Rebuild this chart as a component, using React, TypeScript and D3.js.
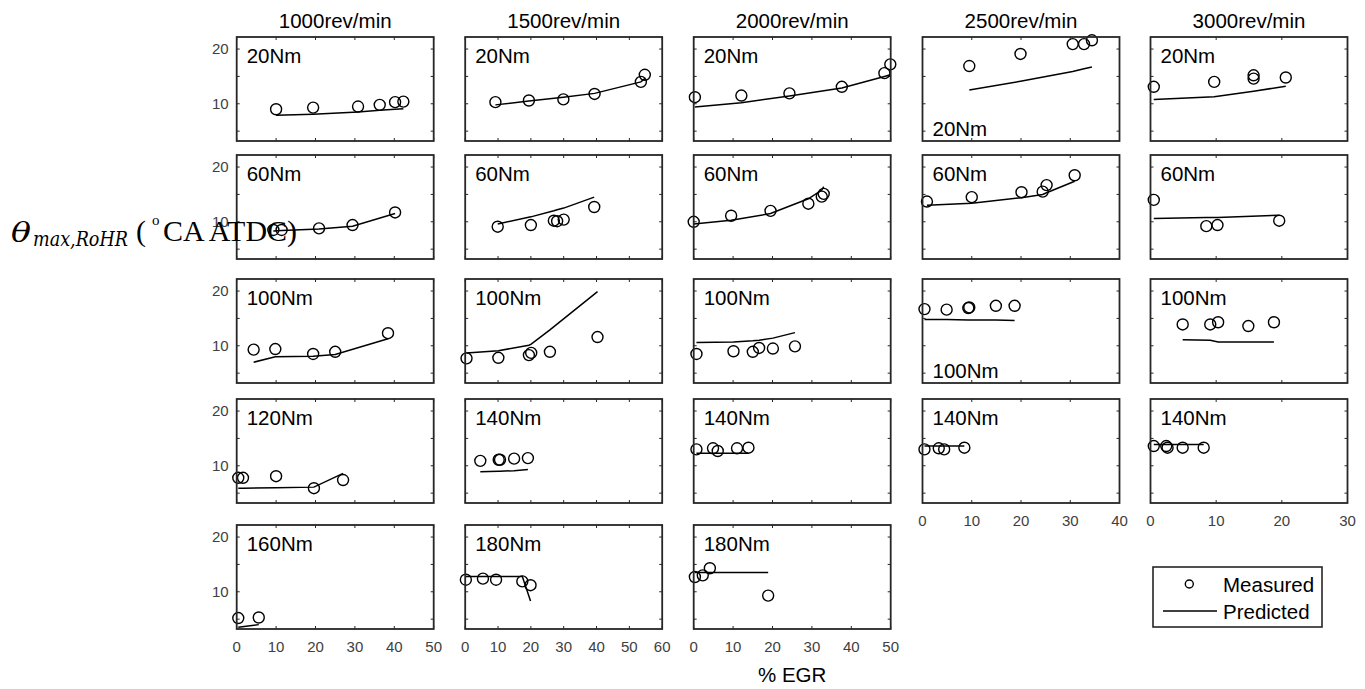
import React from 'react';
import * as d3 from 'd3';

// ---------- labels / axes ----------
const speedTitles = ['1000rev/min', '1500rev/min', '2000rev/min', '2500rev/min', '3000rev/min'];
const xMaxByCol = [50, 60, 50, 40, 30];
const yTickValues = [5, 10, 15, 20];
const yTickLabels = [10, 20];
const yDomain: [number, number] = [3.2, 22.2];
const legendLabels = ['Measured', 'Predicted'];
const xAxisTitle = '% EGR';

// ---------- data (EGR %, measured, predicted) ----------
// 1000 rev/min
const egr_1000_20 = [10.0, 19.4, 30.8, 36.3, 40.2, 42.3];
const meas_1000_20 = [9.0, 9.3, 9.5, 9.8, 10.3, 10.4];
const pred_1000_20 = [7.9, 8.1, 8.5, 8.8, 9.0, 9.1];

const egr_1000_60 = [9.3, 11.4, 20.9, 29.4, 40.2];
const meas_1000_60 = [8.5, 8.5, 8.8, 9.4, 11.7];
const pred_1000_60 = [8.3, 8.4, 8.7, 9.2, 11.5];

const egr_1000_100 = [4.3, 9.8, 19.4, 25.0, 38.4];
const meas_1000_100 = [9.3, 9.4, 8.5, 8.9, 12.3];
const pred_1000_100 = [7.0, 8.0, 8.1, 8.4, 11.3];

const egr_1000_120 = [0.4, 1.6, 10.0, 19.6, 27.0];
const meas_1000_120 = [7.8, 7.8, 8.1, 5.9, 7.4];
const pred_1000_120 = [5.9, 5.9, 6.0, 6.1, 8.6];

const egr_1000_160 = [0.4, 5.6];
const meas_1000_160 = [5.2, 5.3];
const pred_1000_160 = [3.5, 4.0];

// 1500 rev/min
const egr_1500_20 = [9.2, 19.4, 29.9, 39.4, 53.5, 54.7];
const meas_1500_20 = [10.3, 10.6, 10.8, 11.8, 14.0, 15.3];
const pred_1500_20 = [9.8, 10.5, 11.2, 11.9, 14.0, 14.6];

const egr_1500_60 = [9.9, 20.0, 27.0, 28.0, 30.0, 39.3];
const meas_1500_60 = [9.1, 9.4, 10.2, 10.1, 10.4, 12.7];
const pred_1500_60 = [9.6, 10.9, 12.0, 12.2, 12.5, 14.5];

const egr_1500_100 = [0.4, 10.1, 19.4, 20.1, 25.8, 40.3];
const meas_1500_100 = [7.7, 7.8, 8.3, 8.7, 8.9, 11.6];
const pred_1500_100 = [8.7, 9.1, 10.1, 10.3, 12.9, 19.9];

const egr_1500_140 = [4.6, 10.2, 10.6, 14.9, 19.1];
const meas_1500_140 = [10.9, 11.1, 11.1, 11.3, 11.4];
const pred_1500_140 = [8.9, 9.0, 9.0, 9.1, 9.3];

const egr_1500_180 = [0.2, 5.4, 9.4, 17.4, 19.9];
const meas_1500_180 = [12.2, 12.4, 12.2, 11.9, 11.2];
const pred_1500_180 = [12.8, 12.8, 12.8, 12.8, 8.3];

// 2000 rev/min
const egr_2000_20 = [0.3, 12.1, 24.3, 37.6, 48.4, 49.9];
const meas_2000_20 = [11.2, 11.5, 11.9, 13.1, 15.6, 17.2];
const pred_2000_20 = [9.4, 10.2, 11.4, 12.9, 15.0, 15.3];

const egr_2000_60 = [0.0, 9.5, 19.5, 29.1, 32.5, 33.0];
const meas_2000_60 = [10.0, 11.1, 12.0, 13.3, 14.6, 15.1];
const pred_2000_60 = [9.6, 10.3, 11.5, 14.2, 15.8, 16.4];

const egr_2000_100 = [0.7, 10.1, 15.0, 16.6, 20.1, 25.7];
const meas_2000_100 = [8.5, 9.0, 8.9, 9.6, 9.5, 9.9];
const pred_2000_100 = [10.6, 10.7, 10.9, 11.0, 11.4, 12.4];

const egr_2000_140 = [0.7, 4.9, 6.1, 11.0, 13.9];
const meas_2000_140 = [13.0, 13.2, 12.7, 13.2, 13.3];
const pred_2000_140 = [12.3, 12.3, 12.3, 12.3, 12.3];

const egr_2000_180 = [0.3, 2.3, 4.1, 18.9];
const meas_2000_180 = [12.7, 13.0, 14.3, 9.3];
const pred_2000_180 = [13.5, 13.5, 13.5, 13.5];

// 2500 rev/min
const egr_2500_20 = [9.5, 19.9, 30.5, 32.8, 34.4];
const meas_2500_20 = [16.9, 19.1, 20.9, 20.9, 21.6];
const pred_2500_20 = [12.5, 14.1, 15.9, 16.4, 16.7];

const egr_2500_60 = [0.9, 10.0, 20.1, 24.4, 25.2, 30.9];
const meas_2500_60 = [13.7, 14.5, 15.4, 15.5, 16.7, 18.5];
const pred_2500_60 = [13.0, 13.4, 14.4, 15.0, 15.3, 17.4];

const egr_2500_100 = [0.4, 4.9, 9.3, 9.5, 14.9, 18.7];
const meas_2500_100 = [16.7, 16.6, 16.9, 17.0, 17.3, 17.3];
const pred_2500_100 = [14.8, 14.8, 14.7, 14.7, 14.7, 14.6];

const egr_2500_140 = [0.4, 3.3, 4.4, 8.5];
const meas_2500_140 = [13.0, 13.2, 13.0, 13.3];
const pred_2500_140 = [13.6, 13.6, 13.6, 13.6];

// 3000 rev/min
const egr_3000_20 = [0.5, 9.7, 15.7, 15.7, 20.6];
const meas_3000_20 = [13.1, 14.0, 15.2, 14.6, 14.8];
const pred_3000_20 = [10.8, 11.3, 12.3, 12.3, 13.2];

const egr_3000_60 = [0.5, 8.5, 10.2, 19.6];
const meas_3000_60 = [14.0, 9.2, 9.4, 10.2];
const pred_3000_60 = [10.6, 10.8, 10.8, 11.2];

const egr_3000_100 = [4.9, 9.1, 10.3, 14.9, 18.8];
const meas_3000_100 = [13.9, 13.9, 14.3, 13.6, 14.3];
const pred_3000_100 = [11.1, 11.0, 10.7, 10.7, 10.7];

const egr_3000_140 = [0.5, 2.4, 2.6, 4.9, 8.1];
const meas_3000_140 = [13.6, 13.6, 13.3, 13.3, 13.3];
const pred_3000_140 = [13.9, 13.9, 13.9, 13.9, 13.9];

type Panel = {
  col: number; row: number; label: string; bottomLabel?: boolean;
  egr: number[]; meas: number[]; pred: number[];
};

const panels: Panel[] = [
  { col: 0, row: 0, label: '20Nm', egr: egr_1000_20, meas: meas_1000_20, pred: pred_1000_20 },
  { col: 0, row: 1, label: '60Nm', egr: egr_1000_60, meas: meas_1000_60, pred: pred_1000_60 },
  { col: 0, row: 2, label: '100Nm', egr: egr_1000_100, meas: meas_1000_100, pred: pred_1000_100 },
  { col: 0, row: 3, label: '120Nm', egr: egr_1000_120, meas: meas_1000_120, pred: pred_1000_120 },
  { col: 0, row: 4, label: '160Nm', egr: egr_1000_160, meas: meas_1000_160, pred: pred_1000_160 },
  { col: 1, row: 0, label: '20Nm', egr: egr_1500_20, meas: meas_1500_20, pred: pred_1500_20 },
  { col: 1, row: 1, label: '60Nm', egr: egr_1500_60, meas: meas_1500_60, pred: pred_1500_60 },
  { col: 1, row: 2, label: '100Nm', egr: egr_1500_100, meas: meas_1500_100, pred: pred_1500_100 },
  { col: 1, row: 3, label: '140Nm', egr: egr_1500_140, meas: meas_1500_140, pred: pred_1500_140 },
  { col: 1, row: 4, label: '180Nm', egr: egr_1500_180, meas: meas_1500_180, pred: pred_1500_180 },
  { col: 2, row: 0, label: '20Nm', egr: egr_2000_20, meas: meas_2000_20, pred: pred_2000_20 },
  { col: 2, row: 1, label: '60Nm', egr: egr_2000_60, meas: meas_2000_60, pred: pred_2000_60 },
  { col: 2, row: 2, label: '100Nm', egr: egr_2000_100, meas: meas_2000_100, pred: pred_2000_100 },
  { col: 2, row: 3, label: '140Nm', egr: egr_2000_140, meas: meas_2000_140, pred: pred_2000_140 },
  { col: 2, row: 4, label: '180Nm', egr: egr_2000_180, meas: meas_2000_180, pred: pred_2000_180 },
  { col: 3, row: 0, label: '20Nm', bottomLabel: true, egr: egr_2500_20, meas: meas_2500_20, pred: pred_2500_20 },
  { col: 3, row: 1, label: '60Nm', egr: egr_2500_60, meas: meas_2500_60, pred: pred_2500_60 },
  { col: 3, row: 2, label: '100Nm', bottomLabel: true, egr: egr_2500_100, meas: meas_2500_100, pred: pred_2500_100 },
  { col: 3, row: 3, label: '140Nm', egr: egr_2500_140, meas: meas_2500_140, pred: pred_2500_140 },
  { col: 4, row: 0, label: '20Nm', egr: egr_3000_20, meas: meas_3000_20, pred: pred_3000_20 },
  { col: 4, row: 1, label: '60Nm', egr: egr_3000_60, meas: meas_3000_60, pred: pred_3000_60 },
  { col: 4, row: 2, label: '100Nm', egr: egr_3000_100, meas: meas_3000_100, pred: pred_3000_100 },
  { col: 4, row: 3, label: '140Nm', egr: egr_3000_140, meas: meas_3000_140, pred: pred_3000_140 },
];

// ---------- layout ----------
const colLeft = [236.7, 465.2, 693.7, 922.5, 1150.5];
const rowTop = [37, 155, 279, 399, 525];
const PW = 197;
const PH = 104;
const lastRowByCol = [4, 4, 4, 3, 3];
const SANS = '"Liberation Sans", Arial, Helvetica, sans-serif';
const SERIF = '"Liberation Serif", "Times New Roman", serif';
const MATHSERIF = '"DejaVu Serif", "Liberation Serif", serif';
const AXIS = '#262626';
const TICK = 3;

function PanelView({ p }: { p: Panel }) {
  const x0 = colLeft[p.col];
  const y0 = rowTop[p.row];
  const xMax = xMaxByCol[p.col];
  const xs = d3.scaleLinear().domain([0, xMax]).range([x0, x0 + PW]);
  const ys = d3.scaleLinear().domain(yDomain).range([y0 + PH, y0]);
  const xTicks = d3.range(0, xMax + 0.001, 10);
  const line = d3.line<number>().x((_, i) => xs(p.egr[i])).y((d) => ys(d));
  const isLast = lastRowByCol[p.col] === p.row;
  return (
    <g>
      <rect x={x0} y={y0} width={PW} height={PH} fill="#fff" stroke="none" />
      {xTicks.map((t) => (
        <g key={'xt' + t}>
          <line x1={xs(t)} x2={xs(t)} y1={y0 + PH} y2={y0 + PH - TICK} stroke={AXIS} strokeWidth={1} />
          <line x1={xs(t)} x2={xs(t)} y1={y0} y2={y0 + TICK} stroke={AXIS} strokeWidth={1} />
        </g>
      ))}
      {yTickValues.map((t) => (
        <g key={'yt' + t}>
          <line x1={x0} x2={x0 + TICK} y1={ys(t)} y2={ys(t)} stroke={AXIS} strokeWidth={1} />
          <line x1={x0 + PW} x2={x0 + PW - TICK} y1={ys(t)} y2={ys(t)} stroke={AXIS} strokeWidth={1} />
        </g>
      ))}
      {p.col === 0 &&
        yTickLabels.map((t) => (
          <text key={'yl' + t} x={x0 - 8} y={ys(t) + 5} textAnchor="end" fontFamily={SANS} fontSize={15} fill="#404040">
            {t}
          </text>
        ))}
      {isLast &&
        xTicks.map((t) => (
          <text key={'xl' + t} x={xs(t)} y={y0 + PH + 23} textAnchor="middle" fontFamily={SANS} fontSize={15} fill="#404040">
            {t}
          </text>
        ))}
      <path d={line(p.pred) || ''} fill="none" stroke="#000" strokeWidth={1.5} />
      {p.meas.map((m, i) => (
        <circle key={'c' + i} cx={xs(p.egr[i])} cy={ys(m)} r={5.5} fill="none" stroke="#000" strokeWidth={1.4} />
      ))}
      <rect x={x0} y={y0} width={PW} height={PH} fill="none" stroke={AXIS} strokeWidth={1.8} />
      <text
        x={x0 + 10}
        y={p.bottomLabel ? y0 + PH - 5 : y0 + 26}
        fontFamily={SANS}
        fontSize={20.5}
        fill="#000"
      >
        {p.label}
      </text>
    </g>
  );
}

export default function App() {
  return (
    <svg
      width={1365}
      height={689}
      viewBox="0 0 1365 689"
      style={{ position: 'absolute', left: 0, top: 0, background: '#fff' }}
    >
      <rect x={0} y={0} width={1365} height={689} fill="#fff" />
      {speedTitles.map((t, i) => (
        <text key={t} x={colLeft[i] + PW / 2} y={28} textAnchor="middle" fontFamily={SANS} fontSize={20.5} fill="#000">
          {t}
        </text>
      ))}
      {panels.map((p) => (
        <PanelView key={p.col + '-' + p.row} p={p} />
      ))}
      <text x={colLeft[2] + PW / 2} y={682} textAnchor="middle" fontFamily={SANS} fontSize={20.5} fill="#000">
        {xAxisTitle}
      </text>
      {/* legend */}
      <g>
        <rect x={1153} y={567} width={169} height={60} fill="#fff" stroke={AXIS} strokeWidth={1.6} />
        <circle cx={1189.3} cy={584} r={4} fill="none" stroke="#000" strokeWidth={1.4} />
        <text x={1223} y={592} fontFamily={SANS} fontSize={20.5} fill="#000">{legendLabels[0]}</text>
        <line x1={1163} x2={1217} y1={611} y2={611} stroke="#000" strokeWidth={1.5} />
        <text x={1223} y={619} fontFamily={SANS} fontSize={20.5} fill="#000">{legendLabels[1]}</text>
      </g>
      {/* y-axis label */}
      <g fill="#000">
        <text x={11} y={242} fontFamily={MATHSERIF} fontStyle="italic" fontSize={27} textLength={20} lengthAdjust="spacingAndGlyphs">θ</text>
        <text x={33} y={246} fontFamily={MATHSERIF} fontStyle="italic" fontSize={20} textLength={95} lengthAdjust="spacingAndGlyphs">
          max,RoHR
        </text>
        <text x={136} y={241} fontFamily={SERIF} fontSize={30}>(</text>
        <text x={152} y={225} fontFamily={SERIF} fontSize={15}>o</text>
        <text x={163} y={241} fontFamily={SERIF} fontSize={30} textLength={134} lengthAdjust="spacingAndGlyphs">
          CA ATDC)
        </text>
      </g>
    </svg>
  );
}
